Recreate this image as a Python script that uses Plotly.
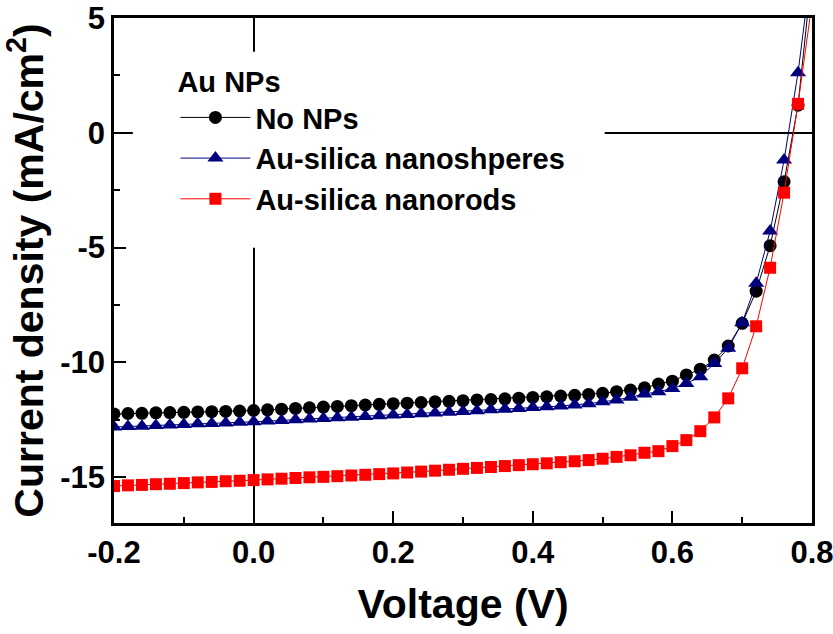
import plotly.graph_objects as go

# ---- data ----
voltage = [round(-0.20 + 0.02 * i, 2) for i in range(51)]  # -0.20 ... 0.80

j_no_nps = [-12.25, -12.23, -12.22, -12.20, -12.19, -12.18, -12.16, -12.15, -12.14, -12.12,
            -12.10, -12.07, -12.04, -12.01, -11.98, -11.95, -11.92, -11.89, -11.86, -11.83,
            -11.80, -11.78, -11.75, -11.72, -11.70, -11.67, -11.64, -11.62, -11.59, -11.56,
            -11.53, -11.50, -11.47, -11.44, -11.40, -11.35, -11.28, -11.21, -11.11, -10.95,
            -10.82, -10.55, -10.30, -9.90, -9.29, -8.30, -6.90, -4.92, -2.13, 1.20,
            7.00]

j_spheres = [-12.82, -12.80, -12.78, -12.75, -12.73, -12.71, -12.68, -12.66, -12.64, -12.61,
             -12.59, -12.56, -12.53, -12.50, -12.47, -12.45, -12.42, -12.39, -12.36, -12.33,
             -12.30, -12.27, -12.24, -12.21, -12.17, -12.14, -12.11, -12.07, -12.04, -12.01,
             -11.97, -11.94, -11.90, -11.86, -11.80, -11.72, -11.64, -11.52, -11.38, -11.28,
             -11.14, -10.92, -10.63, -10.05, -9.39, -8.28, -6.56, -4.28, -1.19, 2.62,
             7.40]

j_rods = [-15.39, -15.36, -15.34, -15.31, -15.29, -15.26, -15.23, -15.21, -15.18, -15.16,
          -15.13, -15.10, -15.07, -15.04, -15.01, -14.99, -14.96, -14.93, -14.90, -14.87,
          -14.84, -14.80, -14.76, -14.72, -14.68, -14.64, -14.60, -14.56, -14.52, -14.48,
          -14.44, -14.40, -14.35, -14.31, -14.26, -14.20, -14.12, -14.05, -13.94, -13.87,
          -13.65, -13.39, -13.00, -12.40, -11.57, -10.26, -8.43, -5.88, -2.61, 1.26,
          5.65]

series_names = ["No NPs", "Au-silica nanoshperes", "Au-silica nanorods"]
legend_title = "Au NPs"

x_tick_vals = [-0.2, 0.0, 0.2, 0.4, 0.6, 0.8]
x_tick_text = ["-0.2", "0.0", "0.2", "0.4", "0.6", "0.8"]
y_tick_vals = [5, 0, -5, -10, -15]
y_tick_text = ["5", "0", "-5", "-10", "-15"]

FONT = "Liberation Sans, Arial, sans-serif"

fig = go.Figure()
styles = [
    dict(color="#000000", symbol="circle", size=13),
    dict(color="#00007f", symbol="triangle-up", size=14),
    dict(color="#ff0000", symbol="square", size=12),
]
for name, ys, st in zip(series_names, [j_no_nps, j_spheres, j_rods], styles):
    fig.add_trace(go.Scatter(
        x=voltage, y=ys, name=name, mode="lines+markers",
        line=dict(color=st["color"], width=1),
        marker=dict(color=st["color"], symbol=st["symbol"], size=st["size"],
                    line=dict(width=0)),
    ))

axis_common = dict(
    showline=True, linewidth=2.5, linecolor="black", mirror=True,
    ticks="inside", ticklen=12, tickwidth=2, tickcolor="black",
    showgrid=False, zeroline=True, zerolinecolor="black", zerolinewidth=2,
    tickfont=dict(family=FONT, size=31, color="black", weight="bold"),
    automargin=False, ticklabeloverflow="allow",
)

fig.update_xaxes(
    range=[-0.2, 0.8], tickvals=x_tick_vals, ticktext=x_tick_text,
    minor=dict(dtick=0.1, ticks="inside", ticklen=6, tickwidth=2, tickcolor="black"),
    title=dict(text="Voltage (V)", standoff=21,
               font=dict(family=FONT, size=41, color="black", weight="bold")),
    **axis_common,
)
fig.update_yaxes(
    range=[-17, 5], tickvals=y_tick_vals, ticktext=y_tick_text,
    minor=dict(tickvals=[2.5, -2.5, -7.5, -12.5], ticks="inside", ticklen=6,
               tickwidth=2, tickcolor="black"),
    title=dict(text="Current density (mA/cm<sup>2</sup>)", standoff=4,
               font=dict(family=FONT, size=41, color="black", weight="bold")),
    **axis_common,
)

# white backdrop behind the legend (hides the zero lines there, as in the reference)
fig.add_shape(type="rect", xref="paper", yref="paper",
              x0=0.027, x1=0.703, y0=0.545, y1=0.933,
              fillcolor="white", line=dict(width=0), layer="above")

fig.update_layout(
    width=833, height=634,
    margin=dict(l=114, r=21, t=18, b=111),
    paper_bgcolor="white", plot_bgcolor="white",
    showlegend=True,
    legend=dict(
        title=dict(text=legend_title,
                   font=dict(family=FONT, size=29, color="black", weight="bold")),
        font=dict(family=FONT, size=29, color="black", weight="bold"),
        x=0.088, y=0.928, xanchor="left", yanchor="top",
        bgcolor="rgba(0,0,0,0)", borderwidth=0, itemwidth=70,
        tracegroupgap=0,
    ),
)

fig.write_html("out.html", config={"displayModeBar": False},
               post_script="document.body.style.margin='0';")
